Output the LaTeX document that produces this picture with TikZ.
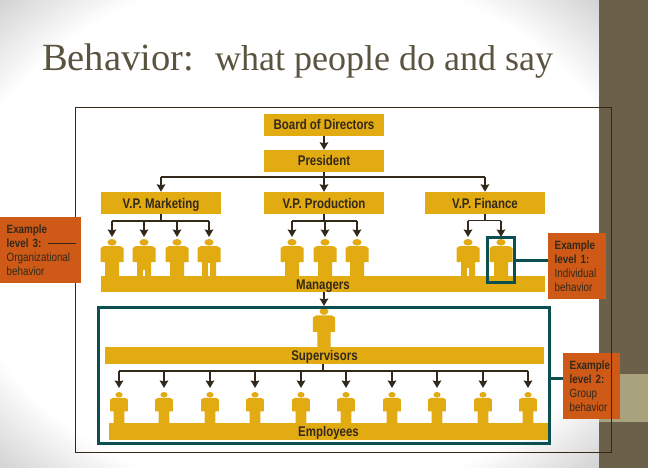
\documentclass[tikz,border=0pt]{standalone}
\usepackage{fontspec}
\setmainfont{Liberation Sans}
\newfontfamily\titlefont{Liberation Serif}
\newfontfamily\chartfont[FakeStretch=.82]{Liberation Sans}
\usetikzlibrary{arrows.meta, calc}
\definecolor{gold}{HTML}{E3AB12}
\definecolor{rust}{HTML}{CF5A17}
\definecolor{teal1}{HTML}{0B4F50}
\definecolor{inkdark}{HTML}{33291A}
\definecolor{band}{HTML}{6B6049}
\definecolor{bandlight}{HTML}{A8A37C}
\definecolor{slate}{HTML}{5A5340}
\tikzset{
  vpbox/.style={fill=gold, minimum width=120pt, minimum height=22pt, inner sep=0pt,
    text height=10pt, text depth=0pt, text=inkdark, font=\fontsize{14}{16}\selectfont\chartfont\bfseries},
  barbox/.style={vpbox, minimum height=16.5pt},
  examplebox/.style={fill=rust, inner xsep=6.5pt, inner ysep=0pt, minimum height=66pt, align=left,
    text=inkdark, font=\fontsize{12}{14}\selectfont\chartfont},
  groupbox/.style={draw=teal1, line width=3pt, inner sep=0pt},
  bus/.style={draw=inkdark, line width=1.1pt},
  drop/.style={draw=inkdark, line width=1.9pt, ->},
  link/.style={draw=teal1, line width=3pt},
  worker/.pic={
    \fill[gold] (0,3.3) ellipse (4.6 and 3.3);
    \fill[gold] (-8,7) -- (8,7) -- (11.5,9) -- (11.5,23) -- (7,23) -- (7,37.5)
      -- (-7,37.5) -- (-7,23) -- (-11.5,23) -- (-11.5,9) -- cycle;
  }
}
\begin{document}
\begin{tikzpicture}[x=1pt, y=-1pt, >={Stealth[length=7.5pt, width=8.5pt, inset=1pt]}]
  \useasboundingbox (0,0) rectangle (648,468);

  % --- slide background, white with greyer corners ----------------------------
  \begin{scope}
    \clip (0,0) rectangle (599,468);
    \fill[black!17] (0,0) rectangle (599,468);
    \foreach \k in {0,...,20} {
      \pgfmathsetmacro{\rr}{1-\k*.01}
      \pgfmathsetmacro{\greyval}{17-\k*.85}
      \fill[black!\greyval!white] (299.5,234) ellipse ({423.5*\rr} and {331*\rr});
    }
  \end{scope}
  \fill[band] (599,0) rectangle (648,468);
  \fill[bandlight] (599,374) rectangle (648,422);

  % --- title ------------------------------------------------------------------
  \node[anchor=base west, inner sep=0pt, text=slate, font=\fontsize{38.5}{40}\selectfont\titlefont] (headword) at (42,71) {Behavior:};
  \node[anchor=base west, inner sep=0pt, text=slate, font=\fontsize{36}{40}\selectfont\titlefont] (headrest) at (215,71) {what people do and say};

  % --- outer frame, level 2 label sits under it -------------------------------
  \node[examplebox, text width=44pt, anchor=north west] (level2) at (563,353) {\textbf{Example}\\\textbf{level 2:}\\Group\\behavior};
  \node[draw=inkdark, line width=.9pt, minimum width=535.5pt, minimum height=345pt, inner sep=0pt] (frame) at (343.2,279.5) {};

  % --- chart boxes ------------------------------------------------------------
  \node[vpbox] (board) at (324,125) {Board of Directors};
  \node[vpbox] (president) at (324,161) {President};
  \node[vpbox] (vpmkt) at (161,203) {V.P. Marketing};
  \node[vpbox] (vpprod) at (324,203) {V.P. Production};
  \node[vpbox] (vpfin) at (485,203) {V.P. Finance};
  \node[barbox, minimum width=444pt] (managers) at (323,284) {Managers};
  \node[barbox, minimum width=439pt, minimum height=17pt] (supervisors) at (324.5,355.5) {Supervisors};
  \node[barbox, minimum width=439pt, minimum height=17pt] (employees) at (328.5,431.5) {Employees};

  % --- top of the chart -------------------------------------------------------
  \coordinate (topbus) at (324,177);
  \draw[drop] (board) -- (president);
  \draw[bus] (president.south) -- (topbus);
  \draw[bus] (topbus -| vpmkt) -- (topbus -| vpfin);
  \foreach \vp in {vpmkt, vpprod, vpfin}
    \draw[drop] (topbus -| \vp) -- (\vp.north);

  % --- managers under each V.P. -----------------------------------------------
  \coordinate (mktbus) at (161,221);
  \coordinate (prodbus) at (324,221);
  \coordinate (finbus) at (485,220.5);
  \draw[bus] (vpmkt.south) -- (mktbus);
  \draw[bus] (vpprod.south) -- (prodbus);
  \draw[bus] (vpfin.south) -- (finbus);
  \foreach \i/\xpos in {1/112, 2/144, 3/177, 4/209} {
    \pic at (\xpos,239) {worker};
    \coordinate (mkt\i) at (\xpos,237);
    \draw[drop] (mktbus -| mkt\i) -- (mkt\i);
  }
  \draw[bus] (mktbus -| mkt1) -- (mktbus -| mkt4);
  \foreach \i/\xpos in {1/292, 2/325, 3/357} {
    \pic at (\xpos,239) {worker};
    \coordinate (prod\i) at (\xpos,237);
    \draw[drop] (prodbus -| prod\i) -- (prod\i);
  }
  \draw[bus] (prodbus -| prod1) -- (prodbus -| prod3);
  \foreach \i/\xpos in {1/468, 2/501} {
    \pic at (\xpos,239) {worker};
    \coordinate (fin\i) at (\xpos,237);
    \draw[drop] (finbus -| fin\i) -- (fin\i);
  }
  \draw[bus] (finbus -| fin1) -- (finbus -| fin2);

  % gaps between the legs
  \foreach \xpos/\ypos in {144/270, 209/263, 468/268}
    \draw[white, line width=1.3pt] (\xpos,\ypos) -- (\xpos,276);

  % --- supervisor and employees -----------------------------------------------
  \pic[xscale=.96, yscale=1.04] at (324,308) {worker};
  \coordinate (supertop) at (324,306);
  \draw[drop] (managers.south -| supertop) -- (supertop);
  \coordinate (empbus) at (323,371);
  \draw[bus] (supervisors.south -| empbus) -- (empbus);
  \foreach \i/\xpos in {1/119, 2/164, 3/210, 4/255, 5/301, 6/346, 7/392, 8/437, 9/483, 10/528} {
    \pic[xscale=.78, yscale=.84] at (\xpos,392) {worker};
    \coordinate (emp\i) at (\xpos,388);
    \draw[drop] (empbus -| emp\i) -- (emp\i);
  }
  \draw[bus] (empbus -| emp1) -- (empbus -| emp10);

  % --- highlight frames and their labels --------------------------------------
  \node[groupbox, minimum width=451pt, minimum height=136pt] (groupframe) at (324,375.5) {};
  \node[groupbox, minimum width=27pt, minimum height=45pt] (oneframe) at (501,260) {};
  \node[examplebox, text width=45pt, anchor=north west] (level1) at (548,233) {\textbf{Example}\\\textbf{level 1:}\\Individual\\behavior};
  \node[examplebox, text width=68pt, anchor=north west] (level3) at (0,217) {\textbf{Example}\\\textbf{level 3:}\\Organizational\\behavior};
  \coordinate (groupout) at (551,378);
  \coordinate (tickstart) at (48,243);
  \coordinate (tickend) at (76,243);
  \draw[link] (oneframe.east) -- (oneframe.east -| level1.west);
  \draw[link] (groupout) -- (groupout -| level2.west);
  \draw[draw=inkdark, line width=.8pt] (tickstart) -- (tickend);

\end{tikzpicture}
\end{document}
